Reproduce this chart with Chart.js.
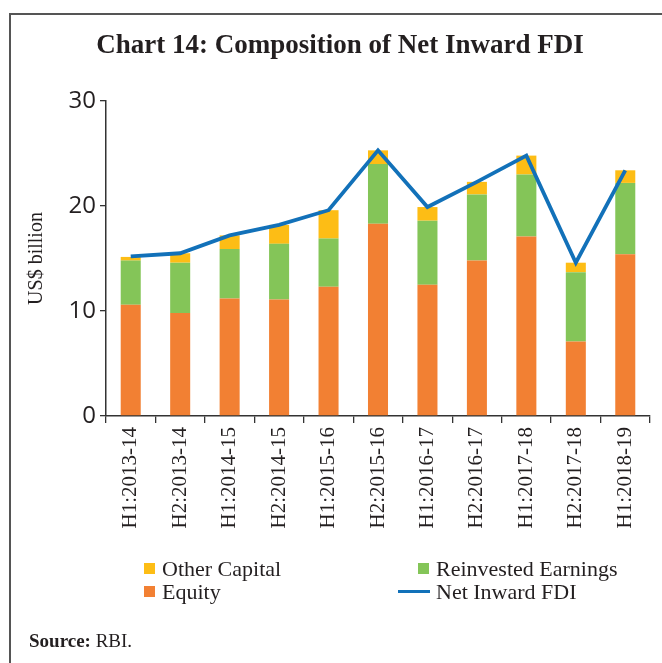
<!DOCTYPE html>
<html>
<head>
<meta charset="utf-8">
<script src="https://cdn.jsdelivr.net/npm/chart.js@4/dist/chart.umd.min.js"></script>
<style>
  html, body { margin: 0; padding: 0; background: #fff; }
  body { width: 662px; height: 663px; position: relative; overflow: hidden; font-family: 'Liberation Serif', serif; color: #231f20; }
  #frame { position: absolute; left: 9px; top: 13px; right: -10px; bottom: -10px; border-top: 2px solid #555; border-left: 2px solid #555; }
  #title { position: absolute; left: 0; width: 680px; top: 31px; text-align: center; font-weight: bold; font-size: 27px; line-height: 27px; white-space: nowrap; }
  #chart-wrap { position: absolute; left: 0; top: 0; width: 662px; height: 663px; }
  .leg-item { position: absolute; font-size: 22px; line-height: 22px; white-space: nowrap; }
  .leg-mark { position: absolute; }
  #source { position: absolute; left: 29px; top: 631px; font-size: 19px; line-height: 19px; }
</style>
</head>
<body>
<div id="frame"></div>
<div id="chart-wrap"><canvas id="fdiChart" width="662" height="663"></canvas></div>
<div id="title">Chart 14: Composition of Net Inward FDI</div>
<div id="legend"></div>
<div id="source"><b>Source:</b> RBI.</div>
<script>
// Data (US$ billion)
const periods = ['H1:2013-14', 'H2:2013-14', 'H1:2014-15', 'H2:2014-15', 'H1:2015-16', 'H2:2015-16',
                 'H1:2016-17', 'H2:2016-17', 'H1:2017-18', 'H2:2017-18', 'H1:2018-19'];
const equity     = [10.6, 9.8, 11.2, 11.1, 12.3, 18.3, 12.5, 14.8, 17.1, 7.1, 15.4];
const reinvested = [4.2, 4.8, 4.7, 5.3, 4.6, 5.7, 6.1, 6.3, 5.9, 6.6, 6.8];
const otherCap   = [0.35, 0.9, 1.3, 1.8, 2.7, 1.3, 1.3, 1.2, 1.8, 0.9, 1.2];
const netFDI     = [15.2, 15.5, 17.2, 18.2, 19.6, 25.3, 19.9, 22.3, 24.8, 14.6, 23.4];
const yTicks     = [0, 10, 20, 30];

const colors = {
  equity: '#F28033',
  reinvested: '#84C558',
  other: '#FDBD15',
  net: '#1271B9',
  axis: '#333333',
  text: '#231f20'
};

const serif = 'Liberation Serif';

const chart = new Chart(document.getElementById('fdiChart'), {
  type: 'bar',
  data: {
    labels: periods,
    datasets: [
      { label: 'Equity', data: equity, backgroundColor: colors.equity, stack: 'fdi', order: 1 },
      { label: 'Reinvested Earnings', data: reinvested, backgroundColor: colors.reinvested, stack: 'fdi', order: 1 },
      { label: 'Other Capital', data: otherCap, backgroundColor: colors.other, stack: 'fdi', order: 1 },
      {
        type: 'line', label: 'Net Inward FDI', data: netFDI, stack: 'net', order: 0,
        borderColor: colors.net, borderWidth: 3.8, pointRadius: 0, tension: 0, fill: false
      }
    ]
  },
  options: {
    responsive: false,
    animation: false,
    layout: { padding: { top: 101, right: 12, left: 0, bottom: 0 } },
    datasets: {
      bar: { categoryPercentage: 1, barPercentage: 0.405, borderWidth: 0 }
    },
    plugins: {
      legend: { display: false },
      tooltip: { enabled: false }
    },
    scales: {
      x: {
        stacked: true,
        afterFit: (scale) => { scale.height = 247; },
        grid: { display: true, drawOnChartArea: false, offset: true, tickLength: 7, color: colors.axis, lineWidth: 1.3 },
        border: { display: true, color: colors.axis, width: 1.5 },
        ticks: {
          minRotation: 90, maxRotation: 90, autoSkip: false, padding: 4,
          color: colors.text,
          font: { family: serif, size: 21 }
        }
      },
      y: {
        stacked: true,
        min: 0, max: 30,
        afterFit: (scale) => { scale.width = 106; },
        afterBuildTicks: (scale) => { scale.ticks = yTicks.map(v => ({ value: v })); },
        grid: { display: true, drawOnChartArea: false, tickLength: 6, color: colors.axis, lineWidth: 1.3 },
        border: { display: true, color: colors.axis, width: 1.5 },
        ticks: {
          padding: 4,
          color: colors.text,
          font: { family: 'Open Sans', size: 24 }
        },
        title: {
          display: true,
          text: 'US$ billion',
          color: colors.text,
          font: { family: serif, size: 20 },
          padding: { top: 25, bottom: 0 }
        }
      }
    }
  }
});

// Legend: 2x2 grid, built from the chart datasets
const legendOrder = ['Other Capital', 'Reinvested Earnings', 'Equity', 'Net Inward FDI'];
const colText = [162, 436];
const rowTop = [558, 581];
const legendEl = document.getElementById('legend');

legendOrder.forEach((name, i) => {
  const ds = chart.data.datasets.find(d => d.label === name);
  const col = i % 2;
  const row = Math.floor(i / 2);

  const item = document.createElement('div');
  item.className = 'leg-item';
  item.style.left = colText[col] + 'px';
  item.style.top = rowTop[row] + 'px';
  item.textContent = name;
  legendEl.appendChild(item);

  const mark = document.createElement('div');
  mark.className = 'leg-mark';
  if (ds.type === 'line') {
    mark.style.left = (colText[col] - 38) + 'px';
    mark.style.top = (rowTop[row] + 9) + 'px';
    mark.style.width = '32px';
    mark.style.height = '3px';
    mark.style.background = ds.borderColor;
  } else {
    mark.style.left = (colText[col] - 18) + 'px';
    mark.style.top = (rowTop[row] + 5) + 'px';
    mark.style.width = '11px';
    mark.style.height = '11px';
    mark.style.background = ds.backgroundColor;
  }
  legendEl.appendChild(mark);
});
</script>
</body>
</html>
